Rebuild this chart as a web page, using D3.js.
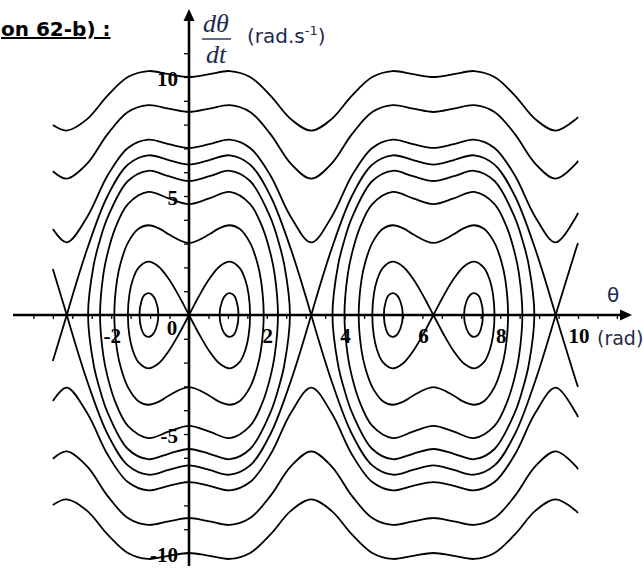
<!DOCTYPE html>
<html>
<head>
<meta charset="utf-8">
<script src="https://cdn.jsdelivr.net/npm/d3@7"></script>
<style>
  body { margin: 0; background: #fff; }
  svg { display: block; }
</style>
</head>
<body>
<div id="chart"></div>
<script>

// open trajectories (revolutions), sampled on one theta grid
var thetaGrid = [-3.5, -3.142, -2.618, -2.094, -1.571, -1.047, -0.524, 0, 0.524, 1.047, 1.571, 2.094, 2.618, 3.142,
  3.665, 4.189, 4.712, 5.236, 5.760, 6.283, 6.807, 7.330, 7.854, 8.378, 8.901, 9.425, 9.948, 10];
var openUp1 = [7.98, 7.75, 8.23, 9.22, 10, 10.25, 10.12, 10, 10.12, 10.25, 10, 9.22, 8.23, 7.75,
  8.23, 9.22, 10, 10.25, 10.12, 10, 10.12, 10.25, 10, 9.22, 8.23, 7.75, 8.23, 8.32];
var openUp2 = [6.04, 5.73, 6.36, 7.60, 8.53, 8.82, 8.67, 8.53, 8.67, 8.82, 8.53, 7.60, 6.36, 5.73,
  6.36, 7.60, 8.53, 8.82, 8.67, 8.53, 8.67, 8.82, 8.53, 7.60, 6.36, 5.73, 6.36, 6.48];
var openUp3 = [3.61, 3.05, 4.12, 5.86, 7.02, 7.37, 7.18, 7.02, 7.18, 7.37, 7.02, 5.86, 4.12, 3.05,
  4.12, 5.86, 7.02, 7.37, 7.18, 7.02, 7.18, 7.37, 7.02, 5.86, 4.12, 3.05, 4.12, 4.29];
var openDown1 = [-7.98, -7.75, -8.23, -9.22, -10, -10.25, -10.12, -10, -10.12, -10.25, -10, -9.22, -8.23, -7.75,
  -8.23, -9.22, -10, -10.25, -10.12, -10, -10.12, -10.25, -10, -9.22, -8.23, -7.75, -8.23, -8.32];
var openDown2 = [-6.04, -5.73, -6.36, -7.60, -8.53, -8.82, -8.67, -8.53, -8.67, -8.82, -8.53, -7.60, -6.36, -5.73,
  -6.36, -7.60, -8.53, -8.82, -8.67, -8.53, -8.67, -8.82, -8.53, -7.60, -6.36, -5.73, -6.36, -6.48];
var openDown3 = [-3.61, -3.05, -4.12, -5.86, -7.02, -7.37, -7.18, -7.02, -7.18, -7.37, -7.02, -5.86, -4.12, -3.05,
  -4.12, -5.86, -7.02, -7.37, -7.18, -7.02, -7.18, -7.37, -7.02, -5.86, -4.12, -3.05, -4.12, -4.29];

// big separatrix, cut in arcs between the saddles (-pi, pi, 3pi)
var sepTheta = [
  [-3.5, -3.142],
  [-3.142, -2.618, -2.094, -1.571, -1.047, -0.524, 0, 0.524, 1.047, 1.571, 2.094, 2.618, 3.142],
  [3.142, 3.665, 4.189, 4.712, 5.236, 5.760, 6.283, 6.807, 7.330, 7.854, 8.378, 8.901, 9.425],
  [9.425, 9.948, 10]
];
var sepUp = [
  [1.93, 0],
  [0, 2.77, 5, 6.32, 6.71, 6.51, 6.32, 6.51, 6.71, 6.32, 5, 2.77, 0],
  [0, 2.77, 5, 6.32, 6.71, 6.51, 6.32, 6.51, 6.71, 6.32, 5, 2.77, 0],
  [0, 2.77, 3.02]
];
var sepDown = [
  [-1.93, 0],
  [0, -2.77, -5, -6.32, -6.71, -6.51, -6.32, -6.51, -6.71, -6.32, -5, -2.77, 0],
  [0, -2.77, -5, -6.32, -6.71, -6.51, -6.32, -6.51, -6.71, -6.32, -5, -2.77, 0],
  [0, -2.77, -3.02]
];

// closed loops around the two wells (theta = 0 and theta = 2pi)
var inner1Omega = [0, 2.10, 3.08, 4.09, 5.63, 6.06, 5.83, 5.63, 5.83, 6.06, 5.63, 4.09, 3.08, 2.10,
  0, -2.10, -3.08, -4.09, -5.63, -6.06, -5.83, -5.63, -5.83, -6.06, -5.63, -4.09, -3.08, -2.10];
var inner1ThetaA = [-2.595, -2.45, -2.3, -2.094, -1.571, -1.047, -0.524, 0, 0.524, 1.047, 1.571, 2.094, 2.3, 2.45,
  2.595, 2.45, 2.3, 2.094, 1.571, 1.047, 0.524, 0, -0.524, -1.047, -1.571, -2.094, -2.3, -2.45];
var inner1ThetaB = [3.688, 3.833, 3.983, 4.189, 4.712, 5.236, 5.759, 6.283, 6.807, 7.330, 7.854, 8.377, 8.583, 8.733,
  8.878, 8.733, 8.583, 8.377, 7.854, 7.330, 6.807, 6.283, 5.759, 5.236, 4.712, 4.189, 3.983, 3.833];

var inner2Omega = [0, 1.73, 2.59, 3.63, 4.66, 5.17, 4.90, 4.66, 4.90, 5.17, 4.66, 3.63, 2.59, 1.73,
  0, -1.73, -2.59, -3.63, -4.66, -5.17, -4.90, -4.66, -4.90, -5.17, -4.66, -3.63, -2.59, -1.73];
var inner2ThetaA = [-2.287, -2.2, -2.094, -1.9, -1.571, -1.047, -0.524, 0, 0.524, 1.047, 1.571, 1.9, 2.094, 2.2,
  2.287, 2.2, 2.094, 1.9, 1.571, 1.047, 0.524, 0, -0.524, -1.047, -1.571, -1.9, -2.094, -2.2];
var inner2ThetaB = [3.996, 4.083, 4.189, 4.383, 4.712, 5.236, 5.759, 6.283, 6.807, 7.330, 7.854, 8.183, 8.377, 8.483,
  8.570, 8.483, 8.377, 8.183, 7.854, 7.330, 6.807, 6.283, 5.759, 5.236, 4.712, 4.383, 4.189, 4.083];

var inner3Omega = [0, 1.47, 2.23, 3.03, 3.62, 3.77, 3.62, 3.39, 3.03, 3.39, 3.62, 3.77, 3.62, 3.03, 2.23, 1.47,
  0, -1.47, -2.23, -3.03, -3.62, -3.77, -3.62, -3.39, -3.03, -3.39, -3.62, -3.77, -3.62, -3.03, -2.23, -1.47];
var inner3ThetaA = [-1.92, -1.85, -1.75, -1.571, -1.3, -1.047, -0.75, -0.524, 0, 0.524, 0.75, 1.047, 1.3, 1.571, 1.75, 1.85,
  1.92, 1.85, 1.75, 1.571, 1.3, 1.047, 0.75, 0.524, 0, -0.524, -0.75, -1.047, -1.3, -1.571, -1.75, -1.85];
var inner3ThetaB = [4.363, 4.433, 4.533, 4.712, 4.983, 5.236, 5.533, 5.759, 6.283, 6.807, 7.033, 7.330, 7.583, 7.854, 8.033, 8.133,
  8.203, 8.133, 8.033, 7.854, 7.583, 7.330, 7.033, 6.807, 6.283, 5.759, 5.533, 5.236, 4.983, 4.712, 4.533, 4.433];

// figure-of-eight separatrix : one lobe each, starting and ending at the saddle
var lobeOmega = [0, 0.47, 0.92, 1.52, 2.04, 2.24, 1.98, 1.46, 0.89, 0, -0.89, -1.46, -1.98, -2.24, -2.04, -1.52, -0.92, -0.47, 0];
var lobeThetas = [
  [0, 0.15, 0.3, 0.524, 0.785, 1.047, 1.3, 1.45, 1.53, 1.571, 1.53, 1.45, 1.3, 1.047, 0.785, 0.524, 0.3, 0.15, 0],
  [0, -0.15, -0.3, -0.524, -0.785, -1.047, -1.3, -1.45, -1.53, -1.571, -1.53, -1.45, -1.3, -1.047, -0.785, -0.524, -0.3, -0.15, 0],
  [6.283, 6.433, 6.583, 6.807, 7.068, 7.330, 7.583, 7.733, 7.813, 7.854, 7.813, 7.733, 7.583, 7.330, 7.068, 6.807, 6.583, 6.433, 6.283],
  [6.283, 6.133, 5.983, 5.759, 5.498, 5.236, 4.983, 4.833, 4.753, 4.712, 4.753, 4.833, 4.983, 5.236, 5.498, 5.759, 5.983, 6.133, 6.283]
];

// small ovals round the stable points
var ovalOmega = [0, 0.58, 0.85, 0.92, 0.83, 0.60, 0, -0.60, -0.83, -0.92, -0.85, -0.58];
var ovalThetas = [
  [0.787, 0.85, 0.95, 1.047, 1.15, 1.22, 1.273, 1.22, 1.15, 1.047, 0.95, 0.85],
  [-0.787, -0.85, -0.95, -1.047, -1.15, -1.22, -1.273, -1.22, -1.15, -1.047, -0.95, -0.85],
  [7.070, 7.133, 7.233, 7.330, 7.433, 7.503, 7.556, 7.503, 7.433, 7.330, 7.233, 7.133],
  [5.496, 5.433, 5.333, 5.236, 5.133, 5.063, 5.010, 5.063, 5.133, 5.236, 5.333, 5.433]
];

// tick labels
var xLabels = [-2, 0, 2, 4, 6, 8, 10];
var yLabels = [10, 5, -5, -10];

var width = 643, height = 571;
var ink = "#000";
var blueInk = "#1c2b4c";

var svg = d3.select("#chart").append("svg")
  .attr("width", width)
  .attr("height", height);

var x = d3.scaleLinear().domain([0, 10]).range([189, 578]);
var y = d3.scaleLinear().domain([0, 10]).range([315, 77]);

function zip(t, w) {
  return t.map(function(v, i) { return [v, w[i]]; });
}

var openLine = d3.line()
  .x(function(d) { return x(d[0]); })
  .y(function(d) { return y(d[1]); })
  .curve(d3.curveCatmullRom.alpha(0.5));

var loopLine = d3.line()
  .x(function(d) { return x(d[0]); })
  .y(function(d) { return y(d[1]); })
  .curve(d3.curveCatmullRomClosed.alpha(0.5));

var curves = svg.append("g")
  .attr("fill", "none")
  .attr("stroke", ink)
  .attr("stroke-width", 1.8)
  .attr("stroke-linejoin", "round");

// revolutions
[openUp1, openUp2, openUp3, openDown1, openDown2, openDown3].forEach(function(w) {
  curves.append("path").attr("d", openLine(zip(thetaGrid, w)));
});

// big separatrix arcs
for (var i = 0; i < sepTheta.length; i++) {
  curves.append("path").attr("d", openLine(zip(sepTheta[i], sepUp[i])));
  curves.append("path").attr("d", openLine(zip(sepTheta[i], sepDown[i])));
}

// loops round both wells
[[inner1ThetaA, inner1Omega], [inner1ThetaB, inner1Omega],
 [inner2ThetaA, inner2Omega], [inner2ThetaB, inner2Omega],
 [inner3ThetaA, inner3Omega], [inner3ThetaB, inner3Omega]].forEach(function(c) {
  curves.append("path").attr("d", loopLine(zip(c[0], c[1])));
});

// figure-of-eight lobes
lobeThetas.forEach(function(t) {
  curves.append("path").attr("d", openLine(zip(t, lobeOmega)));
});

// small ovals
ovalThetas.forEach(function(t) {
  curves.append("path").attr("d", loopLine(zip(t, ovalOmega)));
});

// ---- axes ----
var axes = svg.append("g");

axes.append("g")
  .attr("transform", "translate(0," + y(0) + ")")
  .call(d3.axisBottom(x).tickValues(d3.range(-4, 11.01, 0.5)).tickSize(4).tickFormat(""))
  .call(function(g) { g.select(".domain").remove(); })
  .call(function(g) { g.selectAll("line").attr("stroke", ink).attr("stroke-width", 1.3); });

axes.append("g")
  .attr("transform", "translate(" + x(0) + ",0)")
  .call(d3.axisLeft(y).tickValues(d3.range(-10, 12)).tickSize(5).tickFormat(""))
  .call(function(g) { g.select(".domain").remove(); })
  .call(function(g) { g.selectAll("line").attr("stroke", ink).attr("stroke-width", 1.3); });

// main axis lines with arrow heads
axes.append("line")
  .attr("x1", 13).attr("x2", 622)
  .attr("y1", y(0)).attr("y2", y(0))
  .attr("stroke", ink).attr("stroke-width", 2.6);
axes.append("path")
  .attr("d", "M632," + y(0) + "L620," + (y(0) - 5.5) + "L620," + (y(0) + 5.5) + "Z")
  .attr("fill", ink);

axes.append("line")
  .attr("x1", x(0)).attr("x2", x(0))
  .attr("y1", 566).attr("y2", 19)
  .attr("stroke", ink).attr("stroke-width", 2.6);
axes.append("path")
  .attr("d", "M" + x(0) + ",9L" + (x(0) - 5.5) + ",21L" + (x(0) + 5.5) + ",21Z")
  .attr("fill", ink);

// tick labels
var numFont = "'Liberation Serif', 'Times New Roman', serif";

axes.selectAll(".xlab")
  .data(xLabels)
  .enter().append("text")
  .attr("class", "xlab")
  .attr("x", function(d) { return d == 0 ? x(0) - 17 : x(d) + 1; })
  .attr("y", function(d) { return d == 0 ? 335 : 343; })
  .attr("text-anchor", "middle")
  .attr("font-family", numFont)
  .attr("font-weight", "bold")
  .attr("font-size", 21)
  .attr("fill", ink)
  .text(function(d) { return d; });

axes.selectAll(".ylab")
  .data(yLabels)
  .enter().append("text")
  .attr("class", "ylab")
  .attr("x", x(0) - 11)
  .attr("y", function(d) { return y(d) + 9; })
  .attr("text-anchor", "end")
  .attr("font-family", numFont)
  .attr("font-weight", "bold")
  .attr("font-size", 21)
  .attr("fill", ink)
  .text(function(d) { return d; });

// ---- titles ----
svg.append("text")
  .attr("x", 1).attr("y", 36)
  .attr("font-family", "'DejaVu Sans', Verdana, sans-serif")
  .attr("font-weight", "bold")
  .attr("font-size", 20)
  .attr("text-decoration", "underline")
  .attr("fill", ink)
  .text("on 62-b) :");

// d(theta)/dt fraction
var frac = svg.append("g").attr("fill", blueInk)
  .attr("font-family", numFont)
  .attr("font-style", "italic")
  .attr("font-size", 26);
frac.append("text").attr("x", 216).attr("y", 32).attr("text-anchor", "middle").text("dθ");
frac.append("text").attr("x", 216).attr("y", 63).attr("text-anchor", "middle").text("dt");
svg.append("line")
  .attr("x1", 202).attr("x2", 231)
  .attr("y1", 39).attr("y2", 39)
  .attr("stroke", blueInk).attr("stroke-width", 1.4);

var unitFont = "'DejaVu Sans', Verdana, sans-serif";
var yUnit = svg.append("text")
  .attr("x", 247).attr("y", 43)
  .attr("font-family", unitFont)
  .attr("font-size", 20)
  .attr("fill", blueInk);
yUnit.append("tspan").text("(rad.s");
yUnit.append("tspan").attr("dy", -8).attr("font-size", 13).text("-1");
yUnit.append("tspan").attr("dy", 8).text(")");

svg.append("text")
  .attr("x", 613).attr("y", 302)
  .attr("text-anchor", "middle")
  .attr("font-family", unitFont)
  .attr("font-size", 20)
  .attr("fill", blueInk)
  .text("θ");

svg.append("text")
  .attr("x", 597).attr("y", 345)
  .attr("font-family", unitFont)
  .attr("font-size", 19)
  .attr("fill", blueInk)
  .text("(rad)");
</script>
</body>
</html>
